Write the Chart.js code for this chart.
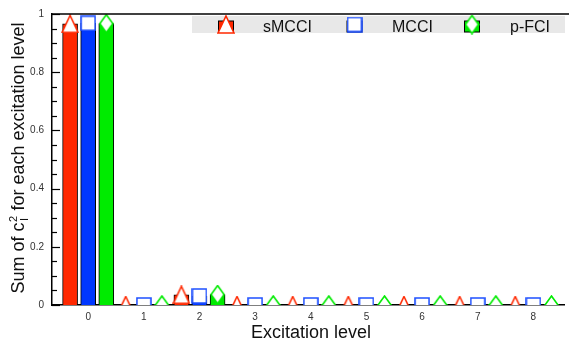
<!DOCTYPE html>
<html>
<head>
<meta charset="utf-8">
<script src="https://cdn.jsdelivr.net/npm/chart.js@4"></script>
<style>
  html, body { margin: 0; padding: 0; background: #fff; }
  #wrap { width: 569px; height: 341px; }
</style>
</head>
<body>
<div id="wrap"><canvas id="c" width="569" height="341"></canvas></div>
<script>
// excitation levels and the summed weights per method
const levels = [0, 1, 2, 3, 4, 5, 6, 7, 8];
const smcci = [0.966, 0, 0.035, 0, 0, 0, 0, 0, 0];
const mcci  = [0.968, 0, 0.031, 0, 0, 0, 0, 0, 0];
const pfci  = [0.967, 0, 0.036, 0, 0, 0, 0, 0, 0];
const seriesNames = ['sMCCI', 'MCCI', 'p-FCI'];
const yTicks = [0, 0.2, 0.4, 0.6, 0.8, 1];

const FONT = '"Liberation Sans", Arial, Helvetica, sans-serif';
const colors = ['rgb(255,40,0)', 'rgb(0,55,255)', 'rgb(0,235,0)'];
const markColors = ['rgb(255,40,0)', 'rgb(30,80,255)', 'rgb(0,235,0)'];
const shift = [-0.325, 0, 0.325]; // group offset of each method within a level

// hollow markers, centred on their own box
function marker(shape, color) {
  const cv = document.createElement('canvas');
  const size = {triangle: [18, 19], square: [16, 16], diamond: [15, 20]}[shape];
  cv.width = size[0]; cv.height = size[1];
  const g = cv.getContext('2d');
  const w = size[0], h = size[1];
  g.lineWidth = 1.6;
  g.strokeStyle = color;
  g.fillStyle = '#fff';
  g.beginPath();
  if (shape === 'triangle') {
    g.moveTo(w / 2, 1); g.lineTo(w - 1, h - 1); g.lineTo(1, h - 1);
  } else if (shape === 'square') {
    g.rect(1, 1, w - 2, h - 2);
  } else {
    g.moveTo(w / 2, 1); g.lineTo(w - 1, h / 2); g.lineTo(w / 2, h - 1); g.lineTo(1, h / 2);
  }
  g.closePath();
  g.fill();
  g.stroke();
  return cv;
}
const marks = [marker('triangle', markColors[0]), marker('square', markColors[1]), marker('diamond', markColors[2])];

const series = [smcci, mcci, pfci];
const datasets = [];
series.forEach((vals, k) => {
  const pts = levels.map((lv, i) => ({x: lv + shift[k], y: vals[i]}));
  datasets.push({
    type: 'bar',
    label: seriesNames[k],
    data: pts,
    backgroundColor: colors[k],
    borderColor: '#000',
    borderWidth: 1,
    barThickness: 15,
    grouped: false,
    order: 2
  });
  datasets.push({
    type: 'line',
    label: seriesNames[k] + ' mark',
    data: pts,
    showLine: false,
    pointStyle: marks[k],
    order: 1
  });
});

const decorations = {
  id: 'decorations',
  afterDraw(chart) {
    const {ctx, chartArea, scales} = chart;
    const y = scales.y;
    ctx.save();
    // top frame line
    ctx.strokeStyle = '#000';
    ctx.lineWidth = 1.5;
    ctx.beginPath();
    ctx.moveTo(chartArea.left, chartArea.top);
    ctx.lineTo(569, chartArea.top);
    ctx.stroke();
    // inward ticks on the y axis
    ctx.lineWidth = 1.2;
    for (let v = 0; v <= 1.0001; v += 0.05) {
      const major = Math.abs(v * 5 - Math.round(v * 5)) < 1e-6;
      const py = Math.round(y.getPixelForValue(v)) + 0.5;
      ctx.beginPath();
      ctx.moveTo(chartArea.left, py);
      ctx.lineTo(chartArea.left + (major ? 8 : 5), py);
      ctx.stroke();
    }
    // axis titles
    ctx.fillStyle = '#111';
    ctx.font = '18px ' + FONT;
    ctx.textAlign = 'center';
    ctx.textBaseline = 'alphabetic';
    ctx.fillText('Excitation level', 311, 338);

    ctx.translate(24, 158);
    ctx.rotate(-Math.PI / 2);
    const a = 'Sum of c', b = ' for each excitation level';
    ctx.font = '18px ' + FONT;
    const wa = ctx.measureText(a).width, wb = ctx.measureText(b).width;
    ctx.font = '11px ' + FONT;
    const ws = Math.max(ctx.measureText('2').width, ctx.measureText('I').width) + 1;
    let x0 = -(wa + ws + wb) / 2;
    ctx.textAlign = 'left';
    ctx.font = '18px ' + FONT;
    ctx.fillText(a, x0, 0);
    ctx.font = '11px ' + FONT;
    ctx.fillText('2', x0 + wa + 0.5, -7);
    ctx.fillText('I', x0 + wa + 1.5, 4);
    ctx.font = '18px ' + FONT;
    ctx.fillText(b, x0 + wa + ws, 0);
    ctx.restore();

    // legend
    ctx.save();
    ctx.fillStyle = '#e8e8e8';
    ctx.fillRect(192, 16, 373, 17);
    const symX = [226, 354.5, 472];
    const textX = [263, 392, 510];
    ctx.font = '16px ' + FONT;
    ctx.textBaseline = 'alphabetic';
    seriesNames.forEach((name, k) => {
      ctx.fillStyle = colors[k];
      ctx.fillRect(symX[k] - 7.5, 21, 15, 11);
      ctx.strokeStyle = '#000';
      ctx.lineWidth = 1;
      ctx.strokeRect(symX[k] - 7.5, 21, 15, 11);
      const m = marks[k];
      ctx.drawImage(m, symX[k] - m.width / 2, 24.5 - m.height / 2);
      ctx.fillStyle = '#111';
      ctx.fillText(name, textX[k], 31.5);
    });
    ctx.restore();
  }
};

new Chart(document.getElementById('c'), {
  type: 'bar',
  data: { datasets: datasets },
  options: {
    responsive: false,
    animation: false,
    events: [],
    layout: { padding: { top: 12, right: 0, left: 0, bottom: 0 } },
    plugins: { legend: { display: false }, tooltip: { enabled: false } },
    scales: {
      x: {
        type: 'linear',
        offset: false,
        min: -0.65,
        max: 8.55,
        afterBuildTicks(scale) { scale.ticks = levels.map(v => ({value: v})); },
        afterFit(scale) { scale.height = 36; },
        grid: { display: false, drawTicks: false, offset: false },
        border: { display: true, color: '#000', width: 1.5 },
        ticks: { color: '#333', font: { family: FONT, size: 10 }, padding: 6, maxRotation: 0 }
      },
      y: {
        min: 0,
        max: 1,
        afterBuildTicks(scale) { scale.ticks = yTicks.map(v => ({value: v})); },
        afterFit(scale) { scale.width = 52; },
        grid: { display: false, drawTicks: false },
        border: { display: true, color: '#000', width: 1.5 },
        ticks: { color: '#333', font: { family: FONT, size: 10 }, padding: 8, callback: v => String(v) }
      }
    }
  },
  plugins: [decorations]
});
</script>
</body>
</html>
